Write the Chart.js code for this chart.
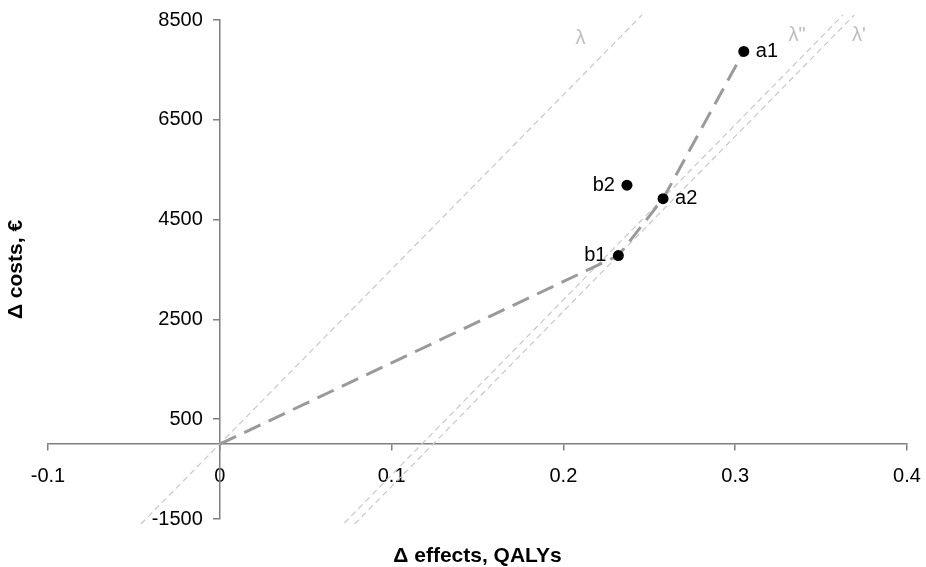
<!DOCTYPE html>
<html>
<head>
<meta charset="utf-8">
<script src="https://cdn.jsdelivr.net/npm/chart.js@4.4.0/dist/chart.umd.min.js"></script>
<style>
  html, body { margin: 0; padding: 0; background: #fff; }
  #wrap { width: 926px; height: 567px; }
</style>
</head>
<body>
<div id="wrap"><canvas id="plane"></canvas></div>
<script>
// strategies on the cost-effectiveness plane
const pointNames = ['a1', 'a2', 'b1', 'b2'];
const effects = [0.305, 0.258, 0.232, 0.237];
const costs = [7870, 4920, 3780, 5190];

// efficiency frontier, starting at the origin
const frontierEffects = [0, 0.232, 0.258, 0.305];
const frontierCosts = [0, 3780, 4920, 7870];

// threshold lines, two end points each
const lambdaNames = ['λ', 'λ"', "λ'"];
const lambdaEffects = [[-0.0459, 0.2457], [0.0725, 0.3627], [0.0785, 0.3693]];
const lambdaCosts = [[-1600, 8600], [-1580, 8600], [-1600, 8600]];
const lambdaLabelEffects = [0.21, 0.336, 0.372];
const lambdaLabelCosts = [8120, 8180, 8180];

const xTicks = [-0.1, 0, 0.1, 0.2, 0.3, 0.4];
const yTicks = [-1500, 500, 2500, 4500, 6500, 8500];

const FONT = '"Liberation Sans", Arial, sans-serif';
const AXIS_GREY = '#7f7f7f';

const toPoints = (xs, ys) => xs.map((v, i) => ({x: v, y: ys[i]}));

const datasets = [
    {
        data: toPoints(effects, costs),
        pointRadius: 5.5,
        pointBackgroundColor: '#000',
        pointBorderWidth: 0,
        showLine: false
    },
    {
        data: toPoints(frontierEffects, frontierCosts),
        showLine: true,
        borderColor: '#9a9a9a',
        borderWidth: 3,
        borderDash: [18, 9],
        pointRadius: 0
    }
];

lambdaNames.forEach((name, i) => {
    datasets.push({
        data: toPoints(lambdaEffects[i], lambdaCosts[i]),
        showLine: true,
        borderColor: '#c8c8c8',
        borderWidth: 1.2,
        borderDash: [6, 4],
        pointRadius: 0,
        clip: false
    });
});

// cost tick labels sit left of the crossing axis, point names, threshold names, axis titles
const planeLabels = {
    id: 'planeLabels',
    afterDatasetsDraw(chart) {
        const {ctx, chartArea, scales: {x, y}} = chart;
        const axisX = x.getPixelForValue(0);
        ctx.save();
        ctx.font = '20px ' + FONT;
        ctx.textBaseline = 'middle';
        ctx.fillStyle = '#000';

        ctx.textAlign = 'right';
        yTicks.forEach(v => {
            ctx.fillText(String(v), axisX - 17, y.getPixelForValue(v));
        });

        pointNames.forEach((name, i) => {
            const px = x.getPixelForValue(effects[i]);
            const py = y.getPixelForValue(costs[i]);
            const right = name[0] === 'a';
            ctx.textAlign = right ? 'left' : 'right';
            ctx.fillText(name, px + (right ? 12 : -12), py);
        });

        ctx.fillStyle = '#bdbdbd';
        ctx.textAlign = 'center';
        lambdaNames.forEach((name, i) => {
            ctx.fillText(name, x.getPixelForValue(lambdaLabelEffects[i]), y.getPixelForValue(lambdaLabelCosts[i]));
        });

        ctx.fillStyle = '#000';
        ctx.font = 'bold 21px ' + FONT;
        ctx.fillText('Δ effects, QALYs', (chartArea.left + chartArea.right) / 2, 556);
        ctx.translate(16, (chartArea.top + chartArea.bottom) / 2);
        ctx.rotate(-Math.PI / 2);
        ctx.fillText('Δ costs, €', 0, 0);
        ctx.restore();
    }
};

new Chart(document.getElementById('plane'), {
    type: 'scatter',
    data: {datasets: datasets},
    plugins: [planeLabels],
    options: {
        responsive: true,
        maintainAspectRatio: false,
        animation: false,
        layout: {padding: {left: 48, right: 19, top: 20, bottom: 48}},
        plugins: {
            legend: {display: false},
            tooltip: {enabled: false}
        },
        scales: {
            x: {
                type: 'linear',
                position: {y: 0},
                min: xTicks[0],
                max: xTicks[xTicks.length - 1],
                afterBuildTicks: axis => { axis.ticks = xTicks.map(v => ({value: v})); },
                grid: {drawOnChartArea: false, tickLength: 6, color: AXIS_GREY, lineWidth: 1.5},
                border: {color: AXIS_GREY, width: 1.5},
                ticks: {
                    color: '#000',
                    font: {family: FONT, size: 20, lineHeight: 2.25},
                    padding: 4,
                    maxRotation: 0,
                    autoSkip: false,
                    callback: v => String(v)
                }
            },
            y: {
                type: 'linear',
                position: {x: 0},
                min: yTicks[0],
                max: yTicks[yTicks.length - 1],
                afterBuildTicks: axis => { axis.ticks = yTicks.map(v => ({value: v})); },
                grid: {drawOnChartArea: false, tickLength: 6, color: AXIS_GREY, lineWidth: 1.5},
                border: {color: AXIS_GREY, width: 1.5},
                ticks: {display: false}
            }
        }
    }
});
</script>
</body>
</html>
